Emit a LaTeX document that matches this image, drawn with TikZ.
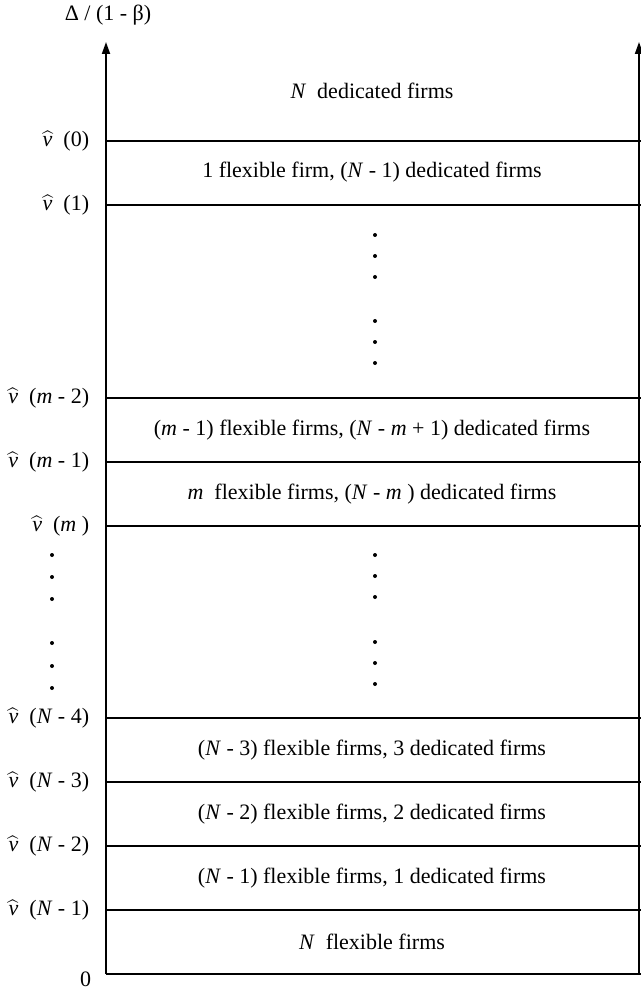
\documentclass[tikz,border=0pt]{standalone}
\usepackage{fontspec}
\setmainfont{Liberation Serif}
\usetikzlibrary{arrows.meta,positioning}
\tikzset{
  every picture/.style={line width=0.9pt},
  axis/.style={-{Triangle[length=6pt,width=4pt]}},
  level/.style={draw},
  region/.style={font=\fontsize{11}{13}\selectfont, inner sep=1pt},
  thr/.style={font=\fontsize{11}{13}\selectfont, anchor=east, inner sep=1pt},
  vdot/.style={circle, fill, inner sep=0pt, minimum size=2pt},
}
\newcommand{\vh}[1]{$\widehat{\textit{v}}$\ \ (#1)}

\begin{document}
\begin{tikzpicture}[x=0.5pt,y=-0.5pt]
\useasboundingbox (0,0) rectangle (641,989);

\def\xL{106}
\def\xR{639}
\def\xM{372}

% ---------------------------------------------------------------- the axes
\coordinate (o) at (\xL,974);
\coordinate (otop) at (\xL,42);
\coordinate (rbot) at (641,974);
\coordinate (rax) at (\xR,974);
\coordinate (rtop) at (\xR,42);
\draw[axis] (o) -- (otop);
\draw[axis] (rax) -- (rtop);
\draw (o) -- (rbot);
\node[region] (yl) at (108,15) {Δ / (1 - β)};
\node[thr] (zero) at (94,979) {0};

% ---------------------------------------------------------------- the thresholds
\foreach \n/\y/\lab in {0/141/0, 1/205/1, 2/398/\textit{m} - 2, 3/462/\textit{m} - 1,
    4/526/\textit{m} , 5/718/\textit{N} - 4, 6/782/\textit{N} - 3,
    7/846/\textit{N} - 2, 8/910/\textit{N} - 1}{
  \coordinate (l\n) at (\xL,\y);
  \coordinate (r\n) at (641,\y);
  \draw[level] (l\n) -- (r\n);
  \node[thr] (t\n) at (92,\y) {\vh{\lab}};
}

% ---------------------------------------------------------------- the regions
\node[region] (g0) at (\xM,91) {\textit{N}\ \ dedicated firms};
\node[region] (g1) at (\xM,172) {1 flexible firm, (\textit{N} - 1) dedicated firms};
\node[region] (g2) at (\xM,430) {(\textit{m} - 1) flexible firms, (\textit{N} - \textit{m} + 1) dedicated firms};
\node[region] (g3) at (\xM,494) {\textit{m}\ \ flexible firms, (\textit{N} - \textit{m} ) dedicated firms};
\node[region] (g4) at (\xM,750) {(\textit{N} - 3) flexible firms, 3 dedicated firms};
\node[region] (g5) at (\xM,814) {(\textit{N} - 2) flexible firms, 2 dedicated firms};
\node[region] (g6) at (\xM,878) {(\textit{N} - 1) flexible firms, 1 dedicated firms};
\node[region] (g7) at (\xM,942) {\textit{N}\ \ flexible firms};

% ---------------------------------------------------------------- the dots
\foreach \y in {235,256,277,321,342,363,555,576,597,642,663,684}
  \node[vdot] at (375,\y) {};
\foreach \y in {555,577,599,643,666,688}
  \node[vdot] at (52,\y) {};

\end{tikzpicture}
\end{document}
